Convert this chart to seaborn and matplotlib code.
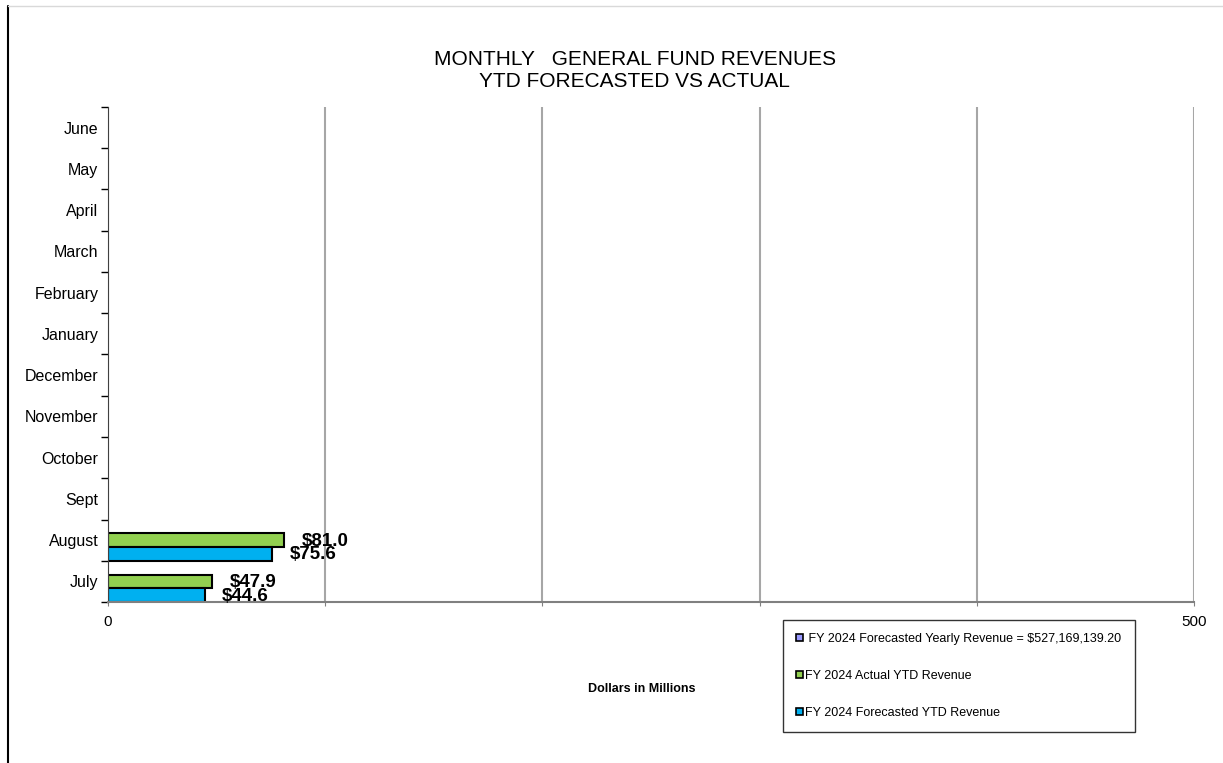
import matplotlib
matplotlib.use("Agg")
import matplotlib.pyplot as plt
from matplotlib.patches import Patch
from matplotlib.lines import Line2D
import seaborn as sns
import pandas as pd
import numpy as np

# months as listed top to bottom on the chart
months = ["June", "May", "April", "March", "February", "January",
          "December", "November", "October", "Sept", "August", "July"]
actual_ytd = {"July": 47.9, "August": 81.0}
forecast_ytd = {"July": 44.6, "August": 75.6}

series_yearly = " FY 2024 Forecasted Yearly Revenue = $527,169,139.20"
series_actual = "FY 2024 Actual YTD Revenue"
series_forecast = "FY 2024 Forecasted YTD Revenue"
colors = {series_yearly: "#9999FF", series_actual: "#92D050", series_forecast: "#00B0F0"}

rows = []
for m in months:
    rows.append({"month": m, "series": series_yearly, "value": np.nan})
    rows.append({"month": m, "series": series_actual, "value": actual_ytd.get(m, np.nan)})
    rows.append({"month": m, "series": series_forecast, "value": forecast_ytd.get(m, np.nan)})
df = pd.DataFrame(rows)

sns.set_style("white")
plt.rcParams["font.family"] = ["Liberation Sans", "DejaVu Sans"]
plt.rcParams["text.color"] = "black"
plt.rcParams["xtick.color"] = "black"
plt.rcParams["ytick.color"] = "black"

fig = plt.figure(figsize=(12.23, 7.63), dpi=100)
ax = fig.add_axes([0.0883, 0.211, 0.888, 0.6488])

hue_order = [series_yearly, series_actual, series_forecast]
sns.barplot(data=df, y="month", x="value", hue="series", order=months,
            hue_order=hue_order, palette=colors, orient="h", width=0.99,
            saturation=1, edgecolor="black", linewidth=1.5, legend=False, ax=ax)

# value labels (they crowd each other in the original too)
for cont in ax.containers:
    for bar in cont:
        w = bar.get_width()
        if np.isnan(w) or w == 0:
            continue
        ax.text(w + 8, bar.get_y() + bar.get_height() / 2 + 0.03, f"${w:.1f}",
                va="center", ha="left", fontsize=13.5, fontweight="bold")

ax.set_xlim(0, 500)
ax.set_ylim(len(months) - 0.5, -0.5)
ax.set_xticks([0, 100, 200, 300, 400, 500])
ax.set_xticklabels(["0", "", "", "", "", "500"], fontsize=11)
ax.xaxis.grid(True, color="#A6A6A6", linewidth=1.5)
ax.set_axisbelow(True)
ax.tick_params(axis="x", bottom=True, length=3, color="#808080", pad=6)
ax.tick_params(axis="y", which="major", length=0, labelsize=11.5, pad=7)
ax.set_yticks(np.arange(-0.5, len(months), 1), minor=True)
ax.tick_params(axis="y", which="minor", left=True, length=5, width=1,
               color="black", direction="out")
ax.set_xlabel("")
ax.set_ylabel("")

for s in ["top", "right"]:
    ax.spines[s].set_visible(False)
ax.spines["left"].set_color("#404040")
ax.spines["bottom"].set_color("#808080")
ax.spines["bottom"].set_linewidth(1.5)

fig.text(0.519, 0.908, "MONTHLY   GENERAL FUND REVENUES\nYTD FORECASTED VS ACTUAL",
         ha="center", va="center", fontsize=15, linespacing=1.2)
fig.text(0.525, 0.097, "Dollars in Millions", ha="center", va="center",
         fontsize=9, fontweight="bold")

handles = [Patch(facecolor=colors[s], edgecolor="black", linewidth=1.2) for s in hue_order]
leg = fig.legend(handles, hue_order, loc="upper left", bbox_to_anchor=(0.635, 0.196),
                 frameon=True, fontsize=9, handlelength=0.55, handleheight=0.55,
                 handletextpad=0.2, labelspacing=2.0, borderpad=1.05, fancybox=False)
leg.get_frame().set_edgecolor("black")
leg.get_frame().set_linewidth(1.0)

# page border lines
fig.add_artist(Line2D([0.0065, 0.0065], [0, 0.992], color="black", linewidth=1.5))
fig.add_artist(Line2D([0.0065, 1], [0.992, 0.992], color="#D9D9D9", linewidth=1.0))

fig.savefig("out.png", dpi=100)
